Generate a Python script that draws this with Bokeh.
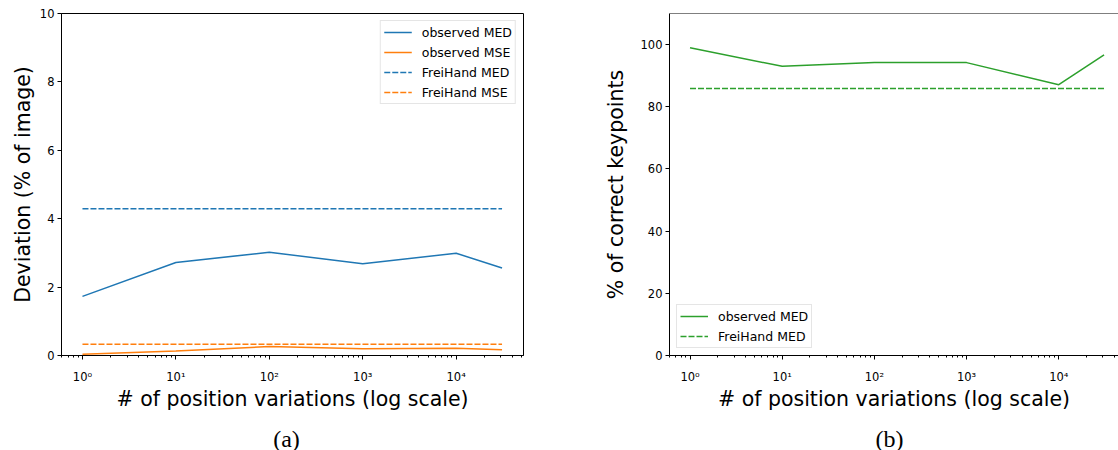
from bokeh.plotting import figure
from bokeh.layouts import row, column
from bokeh.models import FixedTicker, Legend, LegendItem, Span, Range1d
from bokeh.core.properties import value
from bokeh.embed import file_html
from bokeh.resources import INLINE

# ---------------- data ----------------
positions = [1, 10, 100, 1000, 10000, 31000]
observed_med = [1.73, 2.72, 3.02, 2.68, 2.99, 2.56]
observed_mse = [0.04, 0.13, 0.26, 0.20, 0.21, 0.17]
freihand_med = [4.29, 4.29, 4.29, 4.29, 4.29, 4.29]
freihand_mse = [0.33, 0.33, 0.33, 0.33, 0.33, 0.33]

pck_observed = [99.0, 93.0, 94.2, 94.2, 87.1, 96.7]
pck_freihand = [85.9, 85.9, 85.9, 85.9, 85.9, 85.9]

major_ticks = [1, 10, 100, 1000, 10000]
major_labels = ["10\u2070", "10\u00b9", "10\u00b2", "10\u00b3", "10\u2074"]
left_yticks = [0, 2, 4, 6, 8, 10]
right_yticks = [0, 20, 40, 60, 80, 100]

x_label = "# of position variations (log scale)"
left_ylabel = "Deviation (% of image)"
right_ylabel = "% of correct keypoints"
captions = ["(a)", "(b)"]

BLUE = "#1f77b4"
ORANGE = "#ff7f0e"
GREEN = "#2ca02c"
FONT = "DejaVu Sans"

minor_ticks = [m * d for d in [0.1, 1, 10, 100, 1000, 10000] for m in range(2, 10)]


def style_axes(p, yticks, ylabel, ylabel_standoff):
    p.grid.visible = False
    p.background_fill_color = "white"
    p.border_fill_color = "white"
    xa = p.xaxis[0]
    xa.ticker = FixedTicker(ticks=major_ticks, minor_ticks=minor_ticks)
    xa.major_label_overrides = {t: l for t, l in zip(major_ticks, major_labels)}
    ya = p.yaxis[0]
    ya.ticker = FixedTicker(ticks=yticks)
    for ax in (xa, ya):
        ax.axis_line_color = "black"
        ax.axis_line_width = 1
        ax.major_tick_line_color = "black"
        ax.minor_tick_line_color = "black"
        ax.major_tick_in = 0
        ax.major_tick_out = 4
        ax.minor_tick_in = 0
        ax.minor_tick_out = 2
        ax.major_label_text_font = FONT
        ax.major_label_text_font_size = "11.5px"
        ax.major_label_text_color = "black"
        ax.axis_label_text_font = FONT
        ax.axis_label_text_font_size = "20.5px"
        ax.axis_label_text_font_style = "normal"
        ax.axis_label_text_color = "black"
        ax.major_label_standoff = 3
    ya.minor_tick_out = 0
    xa.major_label_standoff = 10
    xa.axis_label = x_label
    xa.axis_label_standoff = 0
    ya.axis_label = ylabel
    ya.axis_label_standoff = ylabel_standoff


def style_legend(leg):
    leg.label_text_font = FONT
    leg.label_text_font_size = "12.5px"
    leg.label_text_color = "black"
    leg.glyph_width = 28
    leg.glyph_height = 16
    leg.label_height = 16
    leg.label_standoff = 10
    leg.spacing = 4
    leg.padding = 3
    leg.margin = 7
    leg.border_line_color = "#cccccc"
    leg.border_line_width = 1
    leg.background_fill_color = "white"
    leg.background_fill_alpha = 0.8


def caption_fig(width, text, cx):
    c = figure(width=width, height=35, x_range=Range1d(0, width), y_range=Range1d(0, 35),
               output_backend="svg", toolbar_location=None, min_border=0)
    c.axis.visible = False
    c.grid.visible = False
    c.outline_line_color = None
    c.text(x=[cx], y=[12], text=[text], text_align="center", text_baseline="middle",
           text_font=value("Liberation Serif"), text_font_size="24px", text_color="black")
    return c


# ---------------- left panel ----------------
p1 = figure(width=600, height=415, x_axis_type="log",
            x_range=Range1d(10 ** -0.2245, 10 ** 4.721), y_range=Range1d(0, 10),
            output_backend="svg", toolbar_location=None,
            min_border_left=61, min_border_right=77, min_border_top=13, min_border_bottom=60)
p1.outline_line_color = "black"
p1.outline_line_width = 1
p1.outline_line_alpha = 1

r1 = p1.line(positions, observed_med, line_color=BLUE, line_width=1.5)
r2 = p1.line(positions, observed_mse, line_color=ORANGE, line_width=1.5)
r3 = p1.line(positions, freihand_med, line_color=BLUE, line_width=1.5, line_dash="6 2")
r4 = p1.line(positions, freihand_mse, line_color=ORANGE, line_width=1.5, line_dash="6 2")
style_axes(p1, left_yticks, left_ylabel, 2)

leg1 = Legend(items=[LegendItem(label="observed MED", renderers=[r1]),
                     LegendItem(label="observed MSE", renderers=[r2]),
                     LegendItem(label="FreiHand MED", renderers=[r3]),
                     LegendItem(label="FreiHand MSE", renderers=[r4])],
              location="top_right")
style_legend(leg1)
p1.add_layout(leg1)

# ---------------- right panel ----------------
p2 = figure(width=518, height=415, x_axis_type="log",
            x_range=Range1d(10 ** -0.2226, 10 ** 4.648), y_range=Range1d(0, 110),
            output_backend="svg", toolbar_location=None,
            min_border_left=65, min_border_right=0, min_border_top=13, min_border_bottom=60)
p2.outline_line_color = None

g1 = p2.line(positions, pck_observed, line_color=GREEN, line_width=1.5)
g2 = p2.line(positions, pck_freihand, line_color=GREEN, line_width=1.5, line_dash="6 2")
style_axes(p2, right_yticks, right_ylabel, 10)
p2.add_layout(Span(location=110, dimension="width", line_color="black", line_width=1))

leg2 = Legend(items=[LegendItem(label="observed MED", renderers=[g1]),
                     LegendItem(label="FreiHand MED", renderers=[g2])],
              location="bottom_left")
style_legend(leg2)
p2.add_layout(leg2)

# ---------------- captions ----------------
c1 = caption_fig(600, captions[0], 286)
c2 = caption_fig(518, captions[1], 289)

layout = column(row(p1, p2), row(c1, c2), spacing=0)

open("out.html", "w").write(file_html(layout, INLINE))
